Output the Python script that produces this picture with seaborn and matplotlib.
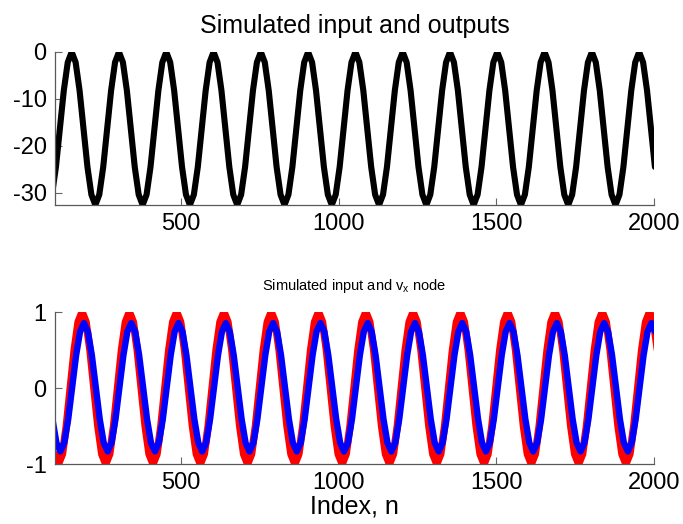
import numpy as np
import matplotlib
matplotlib.use("Agg")
import matplotlib.pyplot as plt
import seaborn as sns

# =========================
# data read off the reference (sampled every 12.5 index steps)
# =========================
out_start = 90.5
out_vals = [
    -30.4, -24.5, -16.3, -8.2, -2.2,
    0, -2.2, -8.2, -16.3, -24.5, -30.4, -32.6, -30.4, -24.5, -16.3, -8.2, -2.2,
    0, -2.2, -8.2, -16.3, -24.5, -30.4, -32.6, -30.4, -24.5, -16.3, -8.2, -2.2,
    0, -2.2, -8.2, -16.3, -24.5, -30.4, -32.6, -30.4, -24.5, -16.3, -8.2, -2.2,
    0, -2.2, -8.2, -16.3, -24.5, -30.4, -32.6, -30.4, -24.5, -16.3, -8.2, -2.2,
    0, -2.2, -8.2, -16.3, -24.5, -30.4, -32.6, -30.4, -24.5, -16.3, -8.2, -2.2,
    0, -2.2, -8.2, -16.3, -24.5, -30.4, -32.6, -30.4, -24.5, -16.3, -8.2, -2.2,
    0, -2.2, -8.2, -16.3, -24.5, -30.4, -32.6, -30.4, -24.5, -16.3, -8.2, -2.2,
    0, -2.2, -8.2, -16.3, -24.5, -30.4, -32.6, -30.4, -24.5, -16.3, -8.2, -2.2,
    0, -2.2, -8.2, -16.3, -24.5, -30.4, -32.6, -30.4, -24.5, -16.3, -8.2, -2.2,
    0, -2.2, -8.2, -16.3, -24.5, -30.4, -32.6, -30.4, -24.5, -16.3, -8.2, -2.2,
    0, -2.2, -8.2, -16.3, -24.5, -30.4, -32.6, -30.4, -24.5, -16.3, -8.2, -2.2,
    0, -2.2, -8.2, -16.3, -24.5, -30.4, -32.6, -30.4, -24.5, -16.3, -8.2, -2.2,
    0, -2.2, -8.2, -16.3, -24.5,
]

input_start = 98.5
input_vals = [
    -0.87, -1, -0.87, -0.5, 0, 0.5, 0.87,
    1, 0.87, 0.5, 0, -0.5, -0.87, -1, -0.87, -0.5, 0, 0.5, 0.87,
    1, 0.87, 0.5, 0, -0.5, -0.87, -1, -0.87, -0.5, 0, 0.5, 0.87,
    1, 0.87, 0.5, 0, -0.5, -0.87, -1, -0.87, -0.5, 0, 0.5, 0.87,
    1, 0.87, 0.5, 0, -0.5, -0.87, -1, -0.87, -0.5, 0, 0.5, 0.87,
    1, 0.87, 0.5, 0, -0.5, -0.87, -1, -0.87, -0.5, 0, 0.5, 0.87,
    1, 0.87, 0.5, 0, -0.5, -0.87, -1, -0.87, -0.5, 0, 0.5, 0.87,
    1, 0.87, 0.5, 0, -0.5, -0.87, -1, -0.87, -0.5, 0, 0.5, 0.87,
    1, 0.87, 0.5, 0, -0.5, -0.87, -1, -0.87, -0.5, 0, 0.5, 0.87,
    1, 0.87, 0.5, 0, -0.5, -0.87, -1, -0.87, -0.5, 0, 0.5, 0.87,
    1, 0.87, 0.5, 0, -0.5, -0.87, -1, -0.87, -0.5, 0, 0.5, 0.87,
    1, 0.87, 0.5, 0, -0.5, -0.87, -1, -0.87, -0.5, 0, 0.5, 0.87,
    1, 0.87, 0.5, 0, -0.5, -0.87, -1, -0.87, -0.5, 0, 0.5, 0.87,
    1, 0.87, 0.5,
]

vx_start = 92.0
vx_vals = [
    -0.41, -0.72, -0.835, -0.72, -0.41, 0.01, 0.43, 0.74,
    0.855, 0.74, 0.43, 0.01, -0.41, -0.72, -0.835, -0.72, -0.41, 0.01, 0.43, 0.74,
    0.855, 0.74, 0.43, 0.01, -0.41, -0.72, -0.835, -0.72, -0.41, 0.01, 0.43, 0.74,
    0.855, 0.74, 0.43, 0.01, -0.41, -0.72, -0.835, -0.72, -0.41, 0.01, 0.43, 0.74,
    0.855, 0.74, 0.43, 0.01, -0.41, -0.72, -0.835, -0.72, -0.41, 0.01, 0.43, 0.74,
    0.855, 0.74, 0.43, 0.01, -0.41, -0.72, -0.835, -0.72, -0.41, 0.01, 0.43, 0.74,
    0.855, 0.74, 0.43, 0.01, -0.41, -0.72, -0.835, -0.72, -0.41, 0.01, 0.43, 0.74,
    0.855, 0.74, 0.43, 0.01, -0.41, -0.72, -0.835, -0.72, -0.41, 0.01, 0.43, 0.74,
    0.855, 0.74, 0.43, 0.01, -0.41, -0.72, -0.835, -0.72, -0.41, 0.01, 0.43, 0.74,
    0.855, 0.74, 0.43, 0.01, -0.41, -0.72, -0.835, -0.72, -0.41, 0.01, 0.43, 0.74,
    0.855, 0.74, 0.43, 0.01, -0.41, -0.72, -0.835, -0.72, -0.41, 0.01, 0.43, 0.74,
    0.855, 0.74, 0.43, 0.01, -0.41, -0.72, -0.835, -0.72, -0.41, 0.01, 0.43, 0.74,
    0.855, 0.74, 0.43, 0.01, -0.41, -0.72, -0.835, -0.72, -0.41, 0.01, 0.43, 0.74,
    0.855, 0.74,
]

step = 12.5
out_n = out_start + step * np.arange(len(out_vals))
input_n = input_start + step * np.arange(len(input_vals))
vx_n = vx_start + step * np.arange(len(vx_vals))

xticks = [500, 1000, 1500, 2000]
top_yticks = [0, -10, -20, -30]
bot_yticks = [-1, 0, 1]

# =========================
# style
# =========================
sns.set_theme(style="white")
plt.rcParams["font.family"] = ["Liberation Sans", "DejaVu Sans"]
plt.rcParams["axes.unicode_minus"] = False
plt.rcParams["text.color"] = "black"
plt.rcParams["mathtext.fontset"] = "custom"
plt.rcParams["mathtext.rm"] = "Liberation Sans"
plt.rcParams["mathtext.it"] = "Liberation Sans"
plt.rcParams["mathtext.default"] = "rm"


def matlab_axes(ax, yticks):
    sns.despine(ax=ax)
    for s in ["left", "bottom"]:
        ax.spines[s].set_color("0.35")
        ax.spines[s].set_linewidth(0.9)
    ax.set_xlim(100, 2000)
    ax.set_xticks(xticks)
    ax.set_yticks(yticks)
    ax.tick_params(axis="both", direction="in", length=5, width=0.8,
                   bottom=True, left=True,
                   color="0.4", labelsize=17, labelcolor="black", pad=6)
    ax.set_xlabel("")
    ax.set_ylabel("")


fig = plt.figure(figsize=(6.83, 5.24), dpi=100)
ax1 = fig.add_axes([0.0805, 0.6088, 0.877, 0.292])
ax2 = fig.add_axes([0.0805, 0.1145, 0.877, 0.290])

# top: output
sns.lineplot(x=out_n, y=out_vals, ax=ax1, color="black", linewidth=4.4,
             estimator=None, sort=False)
ax1.set_ylim(-32.6, 0)
matlab_axes(ax1, top_yticks)
ax1.set_title("Simulated input and outputs", fontsize=18, pad=14, color="black")

# bottom: input and v_x node
sns.lineplot(x=input_n, y=input_vals, ax=ax2, color="red", linewidth=5.4,
             estimator=None, sort=False)
sns.lineplot(x=vx_n, y=vx_vals, ax=ax2, color="blue", linewidth=4.6,
             estimator=None, sort=False)
ax2.set_ylim(-1, 1)
matlab_axes(ax2, bot_yticks)
ax2.set_title(r"Simulated input and v$_{\mathrm{x}}$ node", fontsize=10.5,
              pad=16, color="black")
ax2.set_xlabel("Index, n", fontsize=18, labelpad=0, color="black")

fig.savefig("out.png", dpi=100)
